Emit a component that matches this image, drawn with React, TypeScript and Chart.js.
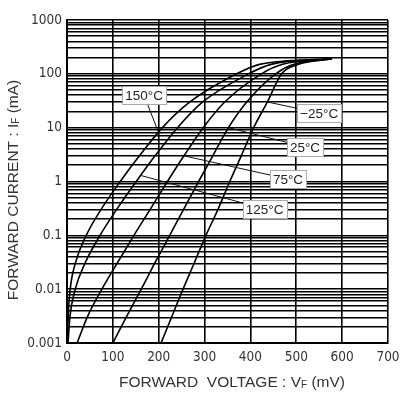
import React, { useEffect, useRef } from "react";
import { Chart, registerables } from "chart.js";

Chart.register(...registerables);

// Forward current levels (mA) at which voltages were read
const currents = [0.001, 0.003, 0.01, 0.03, 0.1, 0.3, 1, 3, 10, 30, 100, 150, 190];
// Forward voltage (mV) per temperature curve
const v150 = [1, 2.5, 7, 18, 42, 74, 116, 158, 208, 268, 370, 420, 578];
const v125 = [2.2, 6.3, 18, 39, 72, 108, 151, 192, 241, 296, 396, 445, 578];
const v75 = [22, 44, 76, 109, 146, 181, 219, 255, 297, 344, 424, 470, 578];
const v25 = [100, 129, 162, 191, 224, 254, 287, 318, 352, 392, 455, 495, 578];
const vMinus25 = [205, 228, 253, 277, 303, 329, 355, 380, 407, 437, 468, 505, 578];

const seriesNames = ["150°C", "125°C", "75°C", "25°C", "-25°C"];
const seriesVolts = [v150, v125, v75, v25, vMinus25];

// Axis ticks
const xTicks = [0, 100, 200, 300, 400, 500, 600, 700];
const yDecades = [0.001, 0.01, 0.1, 1, 10, 100, 1000];
const yTickLabels = ["0.001", "0.01", "0.1", "1", "10", "100", "1000"];

// Curve labels: box centre (mV, mA) and the point on the curve the leader reaches
const labelText = ["150°C", "−25°C", "25°C", "75°C", "125°C"];
const labelBoxV = [168, 550, 519, 482, 431];
const labelBoxI = [40, 18.7, 4.4, 1.11, 0.31];
const labelTargetV = [200, 437, 352, 255, 160];
const labelTargetI = [8, 30, 10, 3, 1.3];

const FONT = "'Liberation Sans', Arial, Helvetica, sans-serif";
const NARROW = "'Liberation Sans Narrow', 'Arial Narrow', 'DejaVu Sans Condensed', 'Liberation Sans', sans-serif";

export default function App() {
  const ref = useRef<HTMLCanvasElement | null>(null);

  useEffect(() => {
    const canvas = ref.current;
    if (!canvas) return;

    const datasets = seriesVolts.map((vs, si) => ({
      label: seriesNames[si],
      data: currents.map((c, i) => ({ x: vs[i], y: c })),
      borderColor: "#000",
      borderWidth: 1.6,
      pointRadius: 0,
      fill: false,
      cubicInterpolationMode: "monotone" as const,
    }));

    const labelPlugin = {
      id: "curveLabels",
      afterDatasetsDraw(chart: any) {
        const ctx = chart.ctx;
        const xs = chart.scales.x;
        const ys = chart.scales.y;
        ctx.save();
        ctx.font = `13.5px ${FONT}`;
        labelText.forEach((t, i) => {
          const bx = xs.getPixelForValue(labelBoxV[i]);
          const by = ys.getPixelForValue(labelBoxI[i]);
          const tx = xs.getPixelForValue(labelTargetV[i]);
          const ty = ys.getPixelForValue(labelTargetI[i]);
          ctx.strokeStyle = "#111";
          ctx.lineWidth = 1;
          ctx.beginPath();
          ctx.moveTo(tx, ty);
          ctx.lineTo(bx, by);
          ctx.stroke();
          const w = Math.round(ctx.measureText(t).width + 6);
          const h = 18;
          const x0 = Math.round(bx - w / 2);
          const y0 = Math.round(by - h / 2);
          ctx.fillStyle = "#fff";
          ctx.fillRect(x0, y0, w, h);
          ctx.strokeStyle = "#aaa";
          ctx.lineWidth = 1;
          ctx.strokeRect(x0 + 0.5, y0 + 0.5, w, h);
          ctx.fillStyle = "#222";
          ctx.textAlign = "center";
          ctx.textBaseline = "middle";
          ctx.fillText(t, bx, by + 1);
        });
        ctx.restore();
      },
      afterDraw(chart: any) {
        const ctx = chart.ctx;
        ctx.save();
        ctx.fillStyle = "#333";
        ctx.textBaseline = "middle";
        const drawSub = (parts: [string, string, string], cx: number, cy: number) => {
          ctx.font = `15.5px ${FONT}`;
          const w0 = ctx.measureText(parts[0]).width;
          const w2 = ctx.measureText(parts[2]).width;
          ctx.font = `10px ${FONT}`;
          const w1 = ctx.measureText(parts[1]).width;
          const total = w0 + w1 + w2;
          let x = cx - total / 2;
          ctx.textAlign = "left";
          ctx.font = `15.5px ${FONT}`;
          ctx.fillText(parts[0], x, cy);
          x += w0;
          ctx.font = `10px ${FONT}`;
          ctx.fillText(parts[1], x, cy + 2);
          x += w1;
          ctx.font = `15.5px ${FONT}`;
          ctx.fillText(parts[2], x, cy);
        };
        drawSub(["FORWARD  VOLTAGE : V", "F", " (mV)"], 232, 383);
        ctx.translate(14, 190);
        ctx.rotate(-Math.PI / 2);
        drawSub(["FORWARD CURRENT : I", "F", " (mA)"], 0, 0);
        ctx.restore();
      },
    };

    const chart = new Chart(canvas, {
      type: "line",
      data: { datasets },
      options: {
        animation: false,
        responsive: false,
        devicePixelRatio: 1,
        layout: { padding: { top: 20, right: 13, left: 0, bottom: 0 } },
        plugins: { legend: { display: false }, tooltip: { enabled: false } },
        scales: {
          x: {
            type: "linear",
            min: 0,
            max: 700,
            afterBuildTicks: (s: any) => {
              s.ticks = xTicks.map((v) => ({ value: v }));
            },
            afterFit: (s: any) => {
              s.height = 51;
              s.paddingLeft = 0;
              s.paddingRight = 0;
            },
            ticks: {
              font: { family: NARROW, size: 13.5 },
              color: "#333",
              padding: 6,
              callback: (v: any) => String(v),
            },
            grid: { color: "#000", lineWidth: 1.6, drawTicks: false },
            border: { color: "#000", width: 2 },
          },
          y: {
            type: "logarithmic",
            min: 0.001,
            max: 1000,
            afterBuildTicks: (s: any) => {
              const t: any[] = [];
              yDecades.forEach((d, di) => {
                if (di === yDecades.length - 1) {
                  t.push({ value: d });
                } else {
                  for (let k = 1; k <= 9; k++) t.push({ value: +(d * k).toPrecision(3) });
                }
              });
              s.ticks = t;
            },
            afterFit: (s: any) => {
              s.width = 67;
              s.paddingTop = 0;
              s.paddingBottom = 0;
            },
            ticks: {
              font: { family: NARROW, size: 13.5 },
              color: "#333",
              padding: 5,
              autoSkip: false,
              callback: (v: any) => {
                const idx = yDecades.findIndex((d) => Math.abs(d - v) / d < 1e-6);
                return idx >= 0 ? yTickLabels[idx] : "";
              },
            },
            grid: { color: "#000", lineWidth: 1.6, drawTicks: false },
            border: { color: "#000", width: 2 },
          },
        },
      },
      plugins: [labelPlugin],
    });

    return () => chart.destroy();
  }, []);

  return (
    <div style={{ position: "absolute", left: 0, top: 0, width: 401, height: 394, background: "#fff" }}>
      <canvas ref={ref} width={401} height={394} style={{ display: "block" }} />
    </div>
  );
}
